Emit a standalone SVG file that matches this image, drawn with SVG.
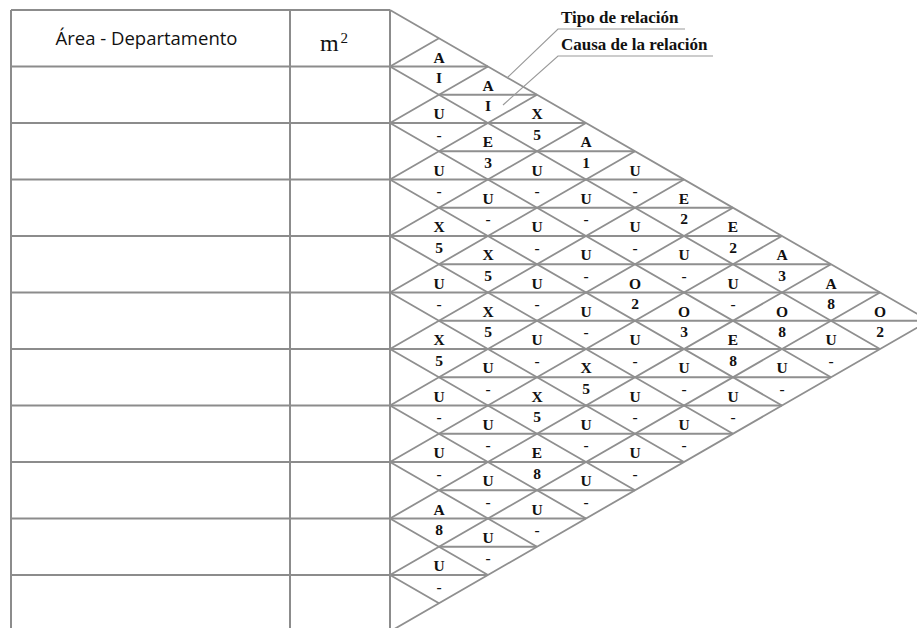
<svg xmlns="http://www.w3.org/2000/svg" width="917" height="628" viewBox="0 0 917 628">
<style>
.tbl{stroke:#8c8c8c;stroke-width:2;fill:none}
.ln{stroke:#8f8f8f;stroke-width:1.8;fill:none}
.ld{stroke:#9a9a9a;stroke-width:1.2;fill:none}
text{font-family:"Liberation Serif","Times New Roman",serif;fill:#111}
.t,.c{font-size:15.5px;font-weight:bold;text-anchor:middle}
.hd{font-family:"Open Sans","Liberation Sans",sans-serif;font-size:18.5px}
.lb{font-size:17px;font-weight:bold}
</style>
<rect width="917" height="628" fill="#ffffff"/>
<g id="table">
<path class="tbl" d="M11,10H390M11,66.5H390M11,123H390M11,179.5H390M11,236H390M11,292.5H390M11,349H390M11,405.5H390M11,462H390M11,518.5H390M11,575H390M11,631.5H390M11,10V632M290,10V632M390,10V632"/>
<text class="hd" x="146.5" y="45" text-anchor="middle">Área - Departamento</text>
<text x="320" y="51" font-size="24">m<tspan x="340.5" y="42.5" font-size="15">2</tspan></text>
</g>
<g id="connectors">
<path class="ln" d="M390,10L929,320.75M390,66.5L880,349M390,123L831,377.25M390,179.5L782,405.5M390,236L733,433.75M390,292.5L684,462M390,349L635,490.25M390,405.5L586,518.5M390,462L537,546.75M390,518.5L488,575M390,575L439,603.25"/>
<path class="ln" d="M390,66.5L439,38.25M390,123L488,66.5M390,179.5L537,94.75M390,236L586,123M390,292.5L635,151.25M390,349L684,179.5M390,405.5L733,207.75M390,462L782,236M390,518.5L831,264.25M390,575L880,292.5M390,631.5L929,320.75"/>
<path class="ln" d="M390,66.5H488M439,94.75H537M390,123H586M439,151.25H635M390,179.5H684M439,207.75H733M390,236H782M439,264.25H831M390,292.5H880M439,320.75H929M390,349H880M439,377.25H831M390,405.5H782M439,433.75H733M390,462H684M439,490.25H635M390,518.5H586M439,546.75H537M390,575H488"/>
<path class="ld" d="M507,78L558,29H685M503,105L558,56H713"/>
</g>
<g id="legend">
<text class="lb" x="561" y="23">Tipo de relación</text>
<text class="lb" x="561" y="50">Causa de la relación</text>
</g>
<g id="c1">
<g id="r1-2" transform="translate(439,66.5)"><text class="t" y="-4">A</text><text class="c" y="16.5">I</text></g>
<g id="r1-3" transform="translate(439,123)"><text class="t" y="-4">U</text><text class="c" y="16.5">-</text></g>
<g id="r1-4" transform="translate(439,179.5)"><text class="t" y="-4">U</text><text class="c" y="16.5">-</text></g>
<g id="r1-5" transform="translate(439,236)"><text class="t" y="-4">X</text><text class="c" y="16.5">5</text></g>
<g id="r1-6" transform="translate(439,292.5)"><text class="t" y="-4">U</text><text class="c" y="16.5">-</text></g>
<g id="r1-7" transform="translate(439,349)"><text class="t" y="-4">X</text><text class="c" y="16.5">5</text></g>
<g id="r1-8" transform="translate(439,405.5)"><text class="t" y="-4">U</text><text class="c" y="16.5">-</text></g>
<g id="r1-9" transform="translate(439,462)"><text class="t" y="-4">U</text><text class="c" y="16.5">-</text></g>
<g id="r1-10" transform="translate(439,518.5)"><text class="t" y="-4">A</text><text class="c" y="16.5">8</text></g>
<g id="r1-11" transform="translate(439,575)"><text class="t" y="-4">U</text><text class="c" y="16.5">-</text></g>
</g>
<g id="c2">
<g id="r2-3" transform="translate(488,94.75)"><text class="t" y="-4">A</text><text class="c" y="16.5">I</text></g>
<g id="r2-4" transform="translate(488,151.25)"><text class="t" y="-4">E</text><text class="c" y="16.5">3</text></g>
<g id="r2-5" transform="translate(488,207.75)"><text class="t" y="-4">U</text><text class="c" y="16.5">-</text></g>
<g id="r2-6" transform="translate(488,264.25)"><text class="t" y="-4">X</text><text class="c" y="16.5">5</text></g>
<g id="r2-7" transform="translate(488,320.75)"><text class="t" y="-4">X</text><text class="c" y="16.5">5</text></g>
<g id="r2-8" transform="translate(488,377.25)"><text class="t" y="-4">U</text><text class="c" y="16.5">-</text></g>
<g id="r2-9" transform="translate(488,433.75)"><text class="t" y="-4">U</text><text class="c" y="16.5">-</text></g>
<g id="r2-10" transform="translate(488,490.25)"><text class="t" y="-4">U</text><text class="c" y="16.5">-</text></g>
<g id="r2-11" transform="translate(488,546.75)"><text class="t" y="-4">U</text><text class="c" y="16.5">-</text></g>
</g>
<g id="c3">
<g id="r3-4" transform="translate(537,123)"><text class="t" y="-4">X</text><text class="c" y="16.5">5</text></g>
<g id="r3-5" transform="translate(537,179.5)"><text class="t" y="-4">U</text><text class="c" y="16.5">-</text></g>
<g id="r3-6" transform="translate(537,236)"><text class="t" y="-4">U</text><text class="c" y="16.5">-</text></g>
<g id="r3-7" transform="translate(537,292.5)"><text class="t" y="-4">U</text><text class="c" y="16.5">-</text></g>
<g id="r3-8" transform="translate(537,349)"><text class="t" y="-4">U</text><text class="c" y="16.5">-</text></g>
<g id="r3-9" transform="translate(537,405.5)"><text class="t" y="-4">X</text><text class="c" y="16.5">5</text></g>
<g id="r3-10" transform="translate(537,462)"><text class="t" y="-4">E</text><text class="c" y="16.5">8</text></g>
<g id="r3-11" transform="translate(537,518.5)"><text class="t" y="-4">U</text><text class="c" y="16.5">-</text></g>
</g>
<g id="c4">
<g id="r4-5" transform="translate(586,151.25)"><text class="t" y="-4">A</text><text class="c" y="16.5">1</text></g>
<g id="r4-6" transform="translate(586,207.75)"><text class="t" y="-4">U</text><text class="c" y="16.5">-</text></g>
<g id="r4-7" transform="translate(586,264.25)"><text class="t" y="-4">U</text><text class="c" y="16.5">-</text></g>
<g id="r4-8" transform="translate(586,320.75)"><text class="t" y="-4">U</text><text class="c" y="16.5">-</text></g>
<g id="r4-9" transform="translate(586,377.25)"><text class="t" y="-4">X</text><text class="c" y="16.5">5</text></g>
<g id="r4-10" transform="translate(586,433.75)"><text class="t" y="-4">U</text><text class="c" y="16.5">-</text></g>
<g id="r4-11" transform="translate(586,490.25)"><text class="t" y="-4">U</text><text class="c" y="16.5">-</text></g>
</g>
<g id="c5">
<g id="r5-6" transform="translate(635,179.5)"><text class="t" y="-4">U</text><text class="c" y="16.5">-</text></g>
<g id="r5-7" transform="translate(635,236)"><text class="t" y="-4">U</text><text class="c" y="16.5">-</text></g>
<g id="r5-8" transform="translate(635,292.5)"><text class="t" y="-4">O</text><text class="c" y="16.5">2</text></g>
<g id="r5-9" transform="translate(635,349)"><text class="t" y="-4">U</text><text class="c" y="16.5">-</text></g>
<g id="r5-10" transform="translate(635,405.5)"><text class="t" y="-4">U</text><text class="c" y="16.5">-</text></g>
<g id="r5-11" transform="translate(635,462)"><text class="t" y="-4">U</text><text class="c" y="16.5">-</text></g>
</g>
<g id="c6">
<g id="r6-7" transform="translate(684,207.75)"><text class="t" y="-4">E</text><text class="c" y="16.5">2</text></g>
<g id="r6-8" transform="translate(684,264.25)"><text class="t" y="-4">U</text><text class="c" y="16.5">-</text></g>
<g id="r6-9" transform="translate(684,320.75)"><text class="t" y="-4">O</text><text class="c" y="16.5">3</text></g>
<g id="r6-10" transform="translate(684,377.25)"><text class="t" y="-4">U</text><text class="c" y="16.5">-</text></g>
<g id="r6-11" transform="translate(684,433.75)"><text class="t" y="-4">U</text><text class="c" y="16.5">-</text></g>
</g>
<g id="c7">
<g id="r7-8" transform="translate(733,236)"><text class="t" y="-4">E</text><text class="c" y="16.5">2</text></g>
<g id="r7-9" transform="translate(733,292.5)"><text class="t" y="-4">U</text><text class="c" y="16.5">-</text></g>
<g id="r7-10" transform="translate(733,349)"><text class="t" y="-4">E</text><text class="c" y="16.5">8</text></g>
<g id="r7-11" transform="translate(733,405.5)"><text class="t" y="-4">U</text><text class="c" y="16.5">-</text></g>
</g>
<g id="c8">
<g id="r8-9" transform="translate(782,264.25)"><text class="t" y="-4">A</text><text class="c" y="16.5">3</text></g>
<g id="r8-10" transform="translate(782,320.75)"><text class="t" y="-4">O</text><text class="c" y="16.5">8</text></g>
<g id="r8-11" transform="translate(782,377.25)"><text class="t" y="-4">U</text><text class="c" y="16.5">-</text></g>
</g>
<g id="c9">
<g id="r9-10" transform="translate(831,292.5)"><text class="t" y="-4">A</text><text class="c" y="16.5">8</text></g>
<g id="r9-11" transform="translate(831,349)"><text class="t" y="-4">U</text><text class="c" y="16.5">-</text></g>
</g>
<g id="c10">
<g id="r10-11" transform="translate(880,320.75)"><text class="t" y="-4">O</text><text class="c" y="16.5">2</text></g>
</g>
</svg>
